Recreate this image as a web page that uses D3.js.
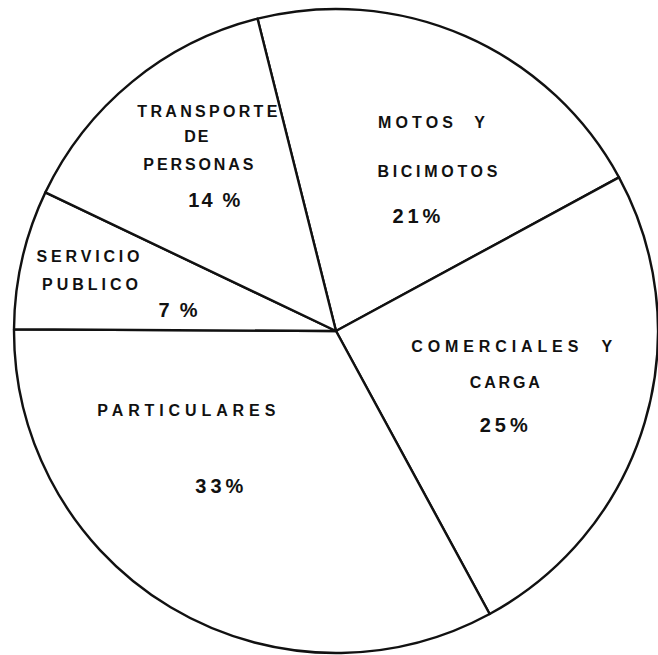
<!DOCTYPE html>
<html>
<head>
<meta charset="utf-8">
<script src="https://cdn.jsdelivr.net/npm/d3@7"></script>
<style>
  html, body { margin: 0; padding: 0; background: #fff; }
  svg { display: block; }
  text { font-family: "Liberation Sans", Arial, sans-serif; fill: #111; }
</style>
</head>
<body>
<div class="piechart"></div>
<script>
// data, clockwise from the top
const categories = ['MOTOS Y BICIMOTOS', 'COMERCIALES Y CARGA', 'PARTICULARES', 'SERVICIO PUBLICO', 'TRANSPORTE DE PERSONAS'];
const shares = [21, 25, 33, 7, 14];
const labelLines = [
    ['MOTOS  Y', 'BICIMOTOS'],
    ['COMERCIALES  Y', 'CARGA'],
    ['PARTICULARES'],
    ['SERVICIO', 'PUBLICO'],
    ['TRANSPORTE', 'DE', 'PERSONAS']
];
const pctLabels = ['21%', '25%', '33%', '7%', '14 %'];

// layout of the hand lettering: nudge from the label centroid + text width
const nameLayout = [
    [[15, -20, 107], [21, 29, 120]],
    [[-16, -36, 201], [-23, 0, 70]],
    [[-47, -87, 178]],
    [[-53, -24, 103], [-51, 4, 96]],
    [[-2, -59, 140], [-13, -34, 24], [-11, -6, 110]]
];
const pctLayout = [[0, 75, 48], [-24, 44, 48], [-14, -10, 48], [37, 31, 39], [5, 31, 52]];

const width = 658;
const height = 655;
const cx = 336, cy = 331, radius = 322;

const svg = d3.select('.piechart').append('svg')
    .attr('width', width)
    .attr('height', height)
    .attr('viewBox', [0, 0, width, height]);

const g = svg.append('g').attr('transform', `translate(${cx},${cy})`);

const startAngle = -14.1 * Math.PI / 180;
const pie = d3.pie().sort(null)
    .startAngle(startAngle)
    .endAngle(startAngle + 2 * Math.PI);
const arcs = pie(shares);

const arc = d3.arc().innerRadius(0).outerRadius(radius);
const labelArc = d3.arc().innerRadius(200).outerRadius(200);

g.selectAll('path.slice')
    .data(arcs)
    .join('path')
    .attr('class', 'slice')
    .attr('d', arc)
    .attr('fill', '#fff')
    .attr('stroke', '#111')
    .attr('stroke-width', 2.4)
    .attr('stroke-linejoin', 'round');

arcs.forEach((d, i) => {
    const [x, y] = labelArc.centroid(d);
    labelLines[i].forEach((line, j) => {
        const [dx, dy, w] = nameLayout[i][j];
        g.append('text')
            .attr('x', x + dx)
            .attr('y', y + dy)
            .attr('text-anchor', 'middle')
            .attr('font-size', 16)
            .attr('font-weight', 'bold')
            .attr('textLength', w)
            .attr('lengthAdjust', 'spacing')
            .style('white-space', 'pre')
            .text(line);
    });
    const [px, py, pw] = pctLayout[i];
    g.append('text')
        .attr('x', x + px)
        .attr('y', y + py)
        .attr('text-anchor', 'middle')
        .attr('font-size', 20)
        .attr('font-weight', 'bold')
        .attr('textLength', pw)
        .attr('lengthAdjust', 'spacing')
        .style('white-space', 'pre')
        .text(pctLabels[i]);
});
</script>
</body>
</html>
